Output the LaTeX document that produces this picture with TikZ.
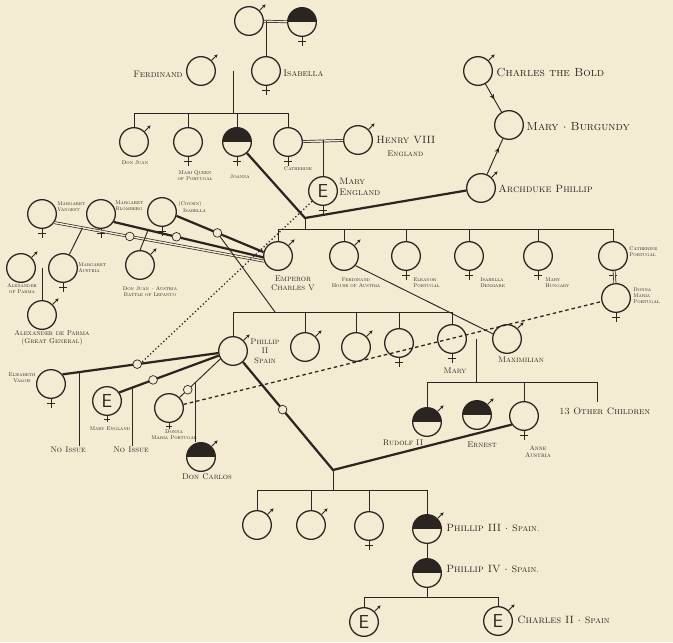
\documentclass[tikz,border=0pt]{standalone}
\usepackage{xcolor}
\usepackage{tikz}
\usetikzlibrary{arrows.meta,decorations.markings}
\definecolor{PaperCream}{HTML}{F4EBD3}
\definecolor{InkBrown}{HTML}{2B2521}

\tikzset{
	person/.style={circle, draw=InkBrown, line width=1.1pt, minimum size=8.6mm, inner sep=0pt, fill=PaperCream},
	halfblack/.style={path picture={\fill[InkBrown] (path picture bounding box.north west) rectangle (path picture bounding box.east);}},
	eperson/.style={person, font=\sffamily\fontsize{16}{16}\selectfont},
	wed/.style={line width=1.9pt},
	pair/.style={double=PaperCream, double distance=1.2pt, line width=0.6pt},
	kin/.style={line width=0.8pt},
	wifemark/.style={circle, draw=InkBrown, line width=0.6pt, minimum size=2.6mm, inner sep=0pt, fill=PaperCream},
	midtip/.style={postaction={decorate}, decoration={markings, mark=at position #1 with {\arrow{Stealth[length=4.5pt,width=4pt]}}}},
	namebig/.style={font=\scshape\normalsize, inner sep=1pt},
	namemid/.style={font=\scshape\small, inner sep=1pt},
	namesm/.style={font=\scshape\footnotesize, inner sep=1pt},
	namexs/.style={font=\scshape\scriptsize, inner sep=1pt, align=center},
	nametn/.style={font=\scshape\fontsize{4.6}{5.2}\selectfont, inner sep=1pt, align=center},
}

\begin{document}
\begin{tikzpicture}[x=0.03cm,y=-0.03cm,color=InkBrown]
	\useasboundingbox (0,0) rectangle (673,642);
	\fill[PaperCream] (0,0) rectangle (673,642);

	% Ferdinand, Isabella and their children
	\node[person] (gpa) at (249,21) {};
	\node[person, halfblack] (gma) at (302,22) {};
	\node[person] (ferd) at (201,71) {};
	\node[person] (isab) at (266,71) {};
	\node[person] (juan) at (134,142) {};
	\node[person] (marip) at (188,142) {};
	\node[person, halfblack] (joanna) at (237,142) {};
	\node[person] (cath) at (288,142) {};
	\node[person] (henry) at (358,140) {};
	\node[eperson] (marye) at (323,191) {E};
	\node[person] (cbold) at (478,71) {};
	\node[person] (mburg) at (509,125) {};
	\node[person] (archd) at (481,188) {};

	% Charles V and his household
	\node[person] (vangest) at (42,214) {};
	\node[person] (blomb) at (101,214) {};
	\node[person] (cousin) at (162,212) {};
	\node[person] (charles5) at (278,256) {};
	\node[person] (ferdh) at (344,256) {};
	\node[person] (eleanor) at (406,256) {};
	\node[person] (isaden) at (469,256) {};
	\node[person] (maryh) at (538,256) {};
	\node[person] (cathp) at (613,256) {};
	\node[person] (donnam) at (616,298) {};
	\node[person] (margaus) at (63,268) {};
	\node[person] (parma) at (21,268) {};
	\node[person] (alexp) at (42,315) {};
	\node[person] (juanaus) at (140,265) {};

	% Phillip II, his wives and children
	\node[person] (phil2) at (233,351) {};
	\node[person] (sibA) at (305,347) {};
	\node[person] (sibB) at (356,347) {};
	\node[person] (sibC) at (399,343) {};
	\node[person] (marys) at (452,339) {};
	\node[person] (maxim) at (507,339) {};
	\node[person] (elis) at (51,384) {};
	\node[eperson] (marye2) at (107,401) {E};
	\node[person] (mariap) at (169,408) {};
	\node[person, halfblack] (carlos) at (201,457) {};
	\node[person, halfblack] (rudolf) at (427,422) {};
	\node[person, halfblack] (ernest) at (477,415) {};
	\node[person] (anne) at (524,416) {};
	\node[person] (kidA) at (257,525) {};
	\node[person] (kidB) at (311,525) {};
	\node[person] (kidC) at (369,526) {};
	\node[person, halfblack] (phil3) at (427,529) {};
	\node[person, halfblack] (phil4) at (427,573) {};
	\node[eperson] (eson) at (364,622) {E};
	\node[eperson] (charles2) at (498,621) {E};

	% sex signs
	\foreach \p in {gpa,ferd,juan,henry,cbold,archd,charles5,ferdh,parma,alexp,juanaus,phil2,sibA,sibB,maxim,carlos,rudolf,ernest,kidA,kidB,phil3,eson,charles2}
		\draw[kin, -{Stealth[length=3pt,width=2.8pt]}] (\p.45) -- ++(6,-6);
	\foreach \p in {gma,isab,marip,joanna,cath,marye,vangest,blomb,cousin,eleanor,isaden,maryh,cathp,donnam,margaus,sibC,marys,elis,anne,kidC}
		\draw[kin] (\p.south) -- ++(0,9) (\p.south) ++(-4,4.5) -- ++(8,0);
	\foreach \p in {marye2,mariap}
		\draw[kin] (\p.south) -- ++(0,6) (\p.south) ++(-3,3) -- ++(6,0);

	% top of the tree
	\draw[pair] (gpa) -- (gma);
	\draw[kin] (isab.north |- gpa) -- (isab.north);
	\draw[pair] (ferd) -- (isab);
	\coordinate (kids1) at (233,113);
	\draw[kin] (kids1 |- ferd) -- (kids1);
	\draw[kin] (juan.north |- kids1) -- (cath.north |- kids1);
	\foreach \c in {juan,marip,joanna,cath}
		\draw[kin] (\c.north |- kids1) -- (\c.north);
	\draw[pair] (cath) -- (henry);
	\draw[kin] (marye.north |- henry) -- (marye.north);

	\draw[kin, midtip=0.55] (cbold) -- (mburg);
	\draw[kin, midtip=0.75] (archd) -- (mburg);

	\coordinate (ja) at (305,218);
	\draw[wed] (joanna) -- (ja) -- (archd);
	\coordinate (kids2) at (305,229);
	\draw[kin] (ja) -- (kids2);
	\draw[kin] (charles5.north |- kids2) -- (cathp.north |- kids2);
	\foreach \c in {charles5,ferdh,eleanor,isaden,maryh,cathp}
		\draw[kin] (\c.north |- kids2) -- (\c.north);
	\draw[pair] (cathp) -- (donnam);

	% Charles V's unions
	\draw[pair] (vangest.-35) -- coordinate[pos=0.135] (vg) coordinate[pos=0.36] (vm) (charles5.200);
	\draw[wed] (blomb.-32) -- coordinate[pos=0.23] (bj) coordinate[pos=0.42] (bm) (charles5.185);
	\draw[wed] (cousin.-15) -- coordinate[pos=0.47] (ic) (charles5.165);
	\draw[kin] (vg) -- (margaus.65);
	\draw[kin] (bj) -- (juanaus.north);
	\draw[pair] (parma) -- (margaus);
	\draw[kin] (alexp.north |- margaus) -- (alexp.north);

	\coordinate (kids3) at (275,312);
	\draw[kin] (ic) -- (kids3);
	\draw[kin] (phil2.north |- kids3) -- (marys.north |- kids3);
	\foreach \c in {phil2,sibA,sibB,sibC,marys}
		\draw[kin] (\c.north |- kids3) -- (\c.north);

	\coordinate (dotend) at (142,362);
	\draw[dotted, line width=1.1pt] (marye) -- (dotend);

	% Phillip II's marriages
	\coordinate (annej) at (333,470);
	\draw[wed] (elis.40) -- coordinate[pos=0.11] (ni1) coordinate[pos=0.48] (wm3) (phil2.188);
	\draw[wed] (marye2.35) -- coordinate[pos=0.13] (ni2) coordinate[pos=0.34] (wm2) (phil2.198);
	\draw[kin] (mariap.45) -- coordinate[pos=0.2] (wm1) coordinate[pos=0.39] (dc) (phil2.212);
	\draw[wed] (phil2.-48) -- coordinate[pos=0.44] (wm4) (annej) -- (anne.215);

	\node[namexs] (lnoA) at (68,450) {No Issue};
	\node[namexs] (lnoB) at (131,450) {No Issue};
	\draw[kin] (ni1) -- (ni1 |- lnoA.north);
	\draw[kin] (ni2) -- (ni2 |- lnoB.north);
	\draw[kin] (dc) -- (dc |- carlos.north);

	\foreach \w in {vm,bm,ic,wm1,wm2,wm3,wm4}
		\node[wifemark] (mk\w) at (\w) {};

	\coordinate (kids4) at (333,490);
	\draw[kin] (annej) -- (kids4);
	\draw[kin] (kidA.north |- kids4) -- (phil3.north |- kids4);
	\foreach \c in {kidA,kidB,kidC,phil3}
		\draw[kin] (\c.north |- kids4) -- (\c.north);
	\draw[kin] (phil3) -- (phil4);
	\coordinate (kids5) at (427,597);
	\draw[kin] (phil4) -- (kids5);
	\draw[kin] (eson.north |- kids5) -- (charles2.north |- kids5);
	\foreach \c in {eson,charles2}
		\draw[kin] (\c.north |- kids5) -- (\c.north);

	% Mary and Maximilian
	\draw[pair] (marys) -- (maxim);
	\coordinate (kids6) at (476,382);
	\coordinate (others) at (597,402);
	\draw[kin] (kids6 |- marys) -- (kids6);
	\draw[kin] (rudolf.north |- kids6) -- (others |- kids6);
	\foreach \c in {rudolf,anne}
		\draw[kin] (\c.north |- kids6) -- (\c.north);
	\draw[kin] (others |- kids6) -- (others);
	\draw[kin] (ferdh.-40) -- (maxim.160);
	\draw[line width=1.1pt, dash pattern=on 3pt off 2.5pt] (mariap) -- (donnam);

	% names
	\node[namesm, anchor=east] (lferd) at (184,74) {Ferdinand};
	\node[namesm, anchor=west] (lisab) at (282,73) {Isabella};
	\node[nametn] (ljuan) at (135,163) {Don Juan};
	\node[nametn] (lmarip) at (195,176) {Mari Queen\\of Portugal};
	\node[nametn] (ljoanna) at (240,177) {Joanna};
	\node[nametn] (lcath) at (298,169) {Catherine};
	\node[namemid, anchor=west] (lhenry) at (375,140) {Henry VIII};
	\node[namexs, anchor=west] (lengl) at (386,154) {England};
	\node[namesm, anchor=west, align=left] (lmarye) at (338,187) {Mary\\England};
	\node[namebig, anchor=west] (lcbold) at (495,72) {Charles the Bold};
	\node[namebig, anchor=west] (lmburg) at (525,127) {Mary $\cdot$ Burgundy};
	\node[namemid, anchor=west] (larchd) at (497,189) {Archduke Phillip};

	\node[nametn, anchor=west, align=left] (lvang) at (56,207) {Margaret\\Vangest};
	\node[nametn, anchor=west, align=left] (lblomb) at (114,206) {Margaret\\Blomberg};
	\node[nametn, anchor=west, align=left] (lcousin) at (177,207) {(Cousin)\\\hspace*{4pt}Isabella};
	\node[namexs] (lch5) at (293,283) {Emperor\\Charles V};
	\node[nametn] (lferdh) at (356,283) {Ferdinand\\House of Austria};
	\node[nametn, anchor=west, align=left] (lelea) at (412,283) {Eleanor\\Portugal};
	\node[nametn, anchor=west, align=left] (lisad) at (479,283) {Isabella\\Denmark};
	\node[nametn, anchor=west, align=left] (lmaryh) at (544,283) {Mary\\Hungary};
	\node[nametn, anchor=west, align=left] (lcathp) at (628,252) {Catherine\\Portugal};
	\node[nametn, anchor=west, align=left] (ldonnam) at (632,296) {Donna\\Maria\\Portugal};
	\node[nametn, anchor=west, align=left] (lmarga) at (77,268) {Margaret\\Austria};
	\node[nametn] (lparma) at (22,289) {Alexander\\of Parma};
	\node[font=\scshape\fontsize{6}{7}\selectfont, align=center, inner sep=1pt] (lalexp) at (52,338) {Alexander de Parma\\(Great General)};
	\node[nametn] (ljuanaus) at (150,292) {Don Juan $\cdot$ Austria\\Battle of Lepanto};
	\node[namexs] (lphil2) at (265,351) {Phillip\\II\\Spain};
	\node[nametn] (lelis) at (22,378) {Elisabeth\\Valois};
	\node[nametn] (lmarye2) at (110,429) {Mary England};
	\node[nametn] (lmariap) at (174,435) {Donna\\Maria Portugal};
	\node[namexs] (lcarlos) at (207,477) {Don Carlos};
	\node[namexs] (lmarys) at (455,371) {Mary};
	\node[namexs] (lmaxim) at (521,360) {Maximilian};
	\node[namexs] (lrudolf) at (403,443) {Rudolf II};
	\node[namexs] (lernest) at (482,445) {Ernest};
	\node[nametn, font=\scshape\fontsize{5.5}{6.2}\selectfont] (lanne) at (538,452) {Anne\\Austria};
	\node[namesm, anchor=west] (lothers) at (558,411) {13 Other Children};
	\node[namemid, anchor=west] (lphil3) at (445,528) {Phillip III $\cdot$ {\footnotesize Spain.}};
	\node[namemid, anchor=west] (lphil4) at (445,569) {Phillip IV $\cdot$ {\footnotesize Spain.}};
	\node[namemid, anchor=west] (lchar2) at (516,620) {Charles II $\cdot$ {\footnotesize Spain}};
\end{tikzpicture}
\end{document}
